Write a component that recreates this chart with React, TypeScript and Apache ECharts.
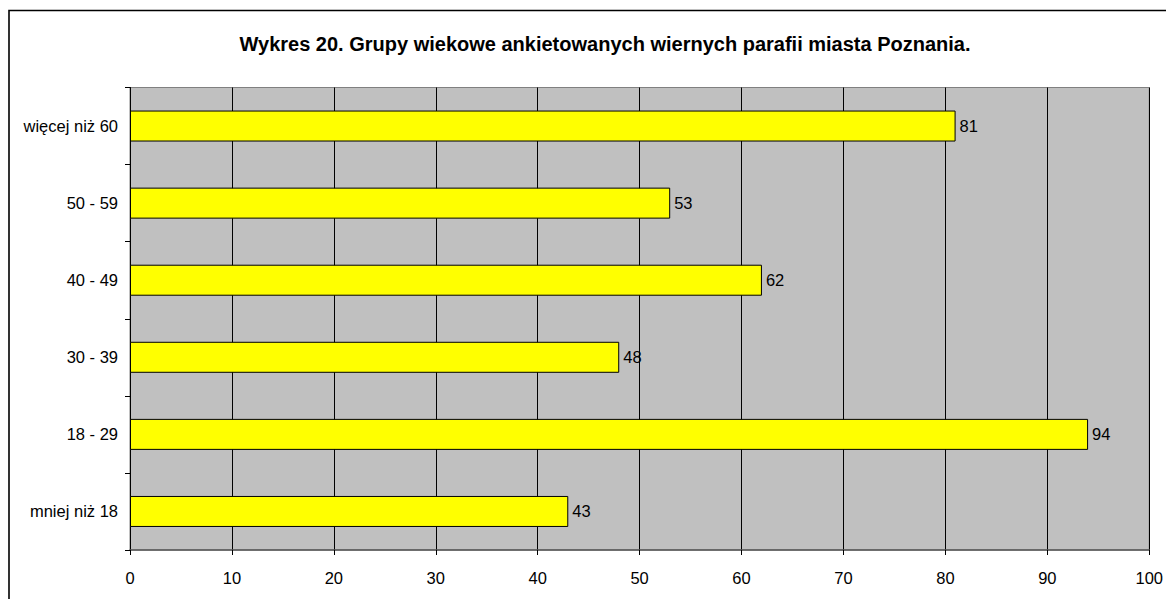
import React, { useEffect, useRef } from "react";
import * as echarts from "echarts";

const TITLE = "Wykres 20. Grupy wiekowe ankietowanych wiernych parafii miasta Poznania.";
const categories = ["mniej niż 18", "18 - 29", "30 - 39", "40 - 49", "50 - 59", "więcej niż 60"];
const values = [43, 94, 48, 62, 53, 81];
const xMin = 0;
const xMax = 100;
const xStep = 10;

const FONT = "'Liberation Sans', Arial, sans-serif";

export default function App() {
  const ref = useRef<HTMLDivElement>(null);
  useEffect(() => {
    if (!ref.current) return;
    const chart = echarts.init(ref.current, undefined, { renderer: "svg" });
    chart.setOption({
      animation: false,
      backgroundColor: "#ffffff",
      textStyle: { fontFamily: FONT },
      title: {
        text: TITLE,
        left: 600,
        textAlign: "center",
        top: 29,
        textStyle: { fontFamily: FONT, fontSize: 20, fontWeight: "bold", color: "#000" },
      },
      graphic: [
        {
          type: "rect",
          shape: { x: 9, y: 10.5, width: 1300, height: 800 },
          style: { fill: "none", stroke: "#000", lineWidth: 1.6 },
          silent: true,
        },
      ],
      grid: {
        left: 130,
        right: 12,
        top: 87.5,
        bottom: 49,
        show: true,
        backgroundColor: "#C0C0C0",
        borderColor: "#808080",
        borderWidth: 1,
        containLabel: false,
      },
      xAxis: {
        type: "value",
        min: xMin,
        max: xMax,
        interval: xStep,
        axisLine: { show: true, lineStyle: { color: "#555", width: 1.5 } },
        axisTick: { show: true, length: 5, lineStyle: { color: "#000" } },
        splitLine: { show: true, lineStyle: { color: "#000", width: 1 } },
        axisLabel: { fontSize: 16.5, color: "#000", margin: 19, fontFamily: FONT },
      },
      yAxis: {
        type: "category",
        data: categories,
        axisLine: { show: true, lineStyle: { color: "#000", width: 1 } },
        axisTick: { show: true, length: 5, lineStyle: { color: "#000" } },
        axisLabel: { fontSize: 16.5, color: "#000", margin: 12, fontFamily: FONT },
        splitLine: { show: false },
      },
      series: [
        {
          type: "bar",
          data: values,
          barWidth: 31,
          itemStyle: { color: "#FFFF00", borderColor: "#000", borderWidth: 1 },
          label: { show: true, position: "right", distance: 4, fontSize: 16.5, color: "#000", fontFamily: FONT },
        },
      ],
    });
    return () => chart.dispose();
  }, []);
  return (
    <div
      ref={ref}
      style={{ position: "fixed", left: 0, top: 0, width: 1166, height: 599 }}
    />
  );
}
